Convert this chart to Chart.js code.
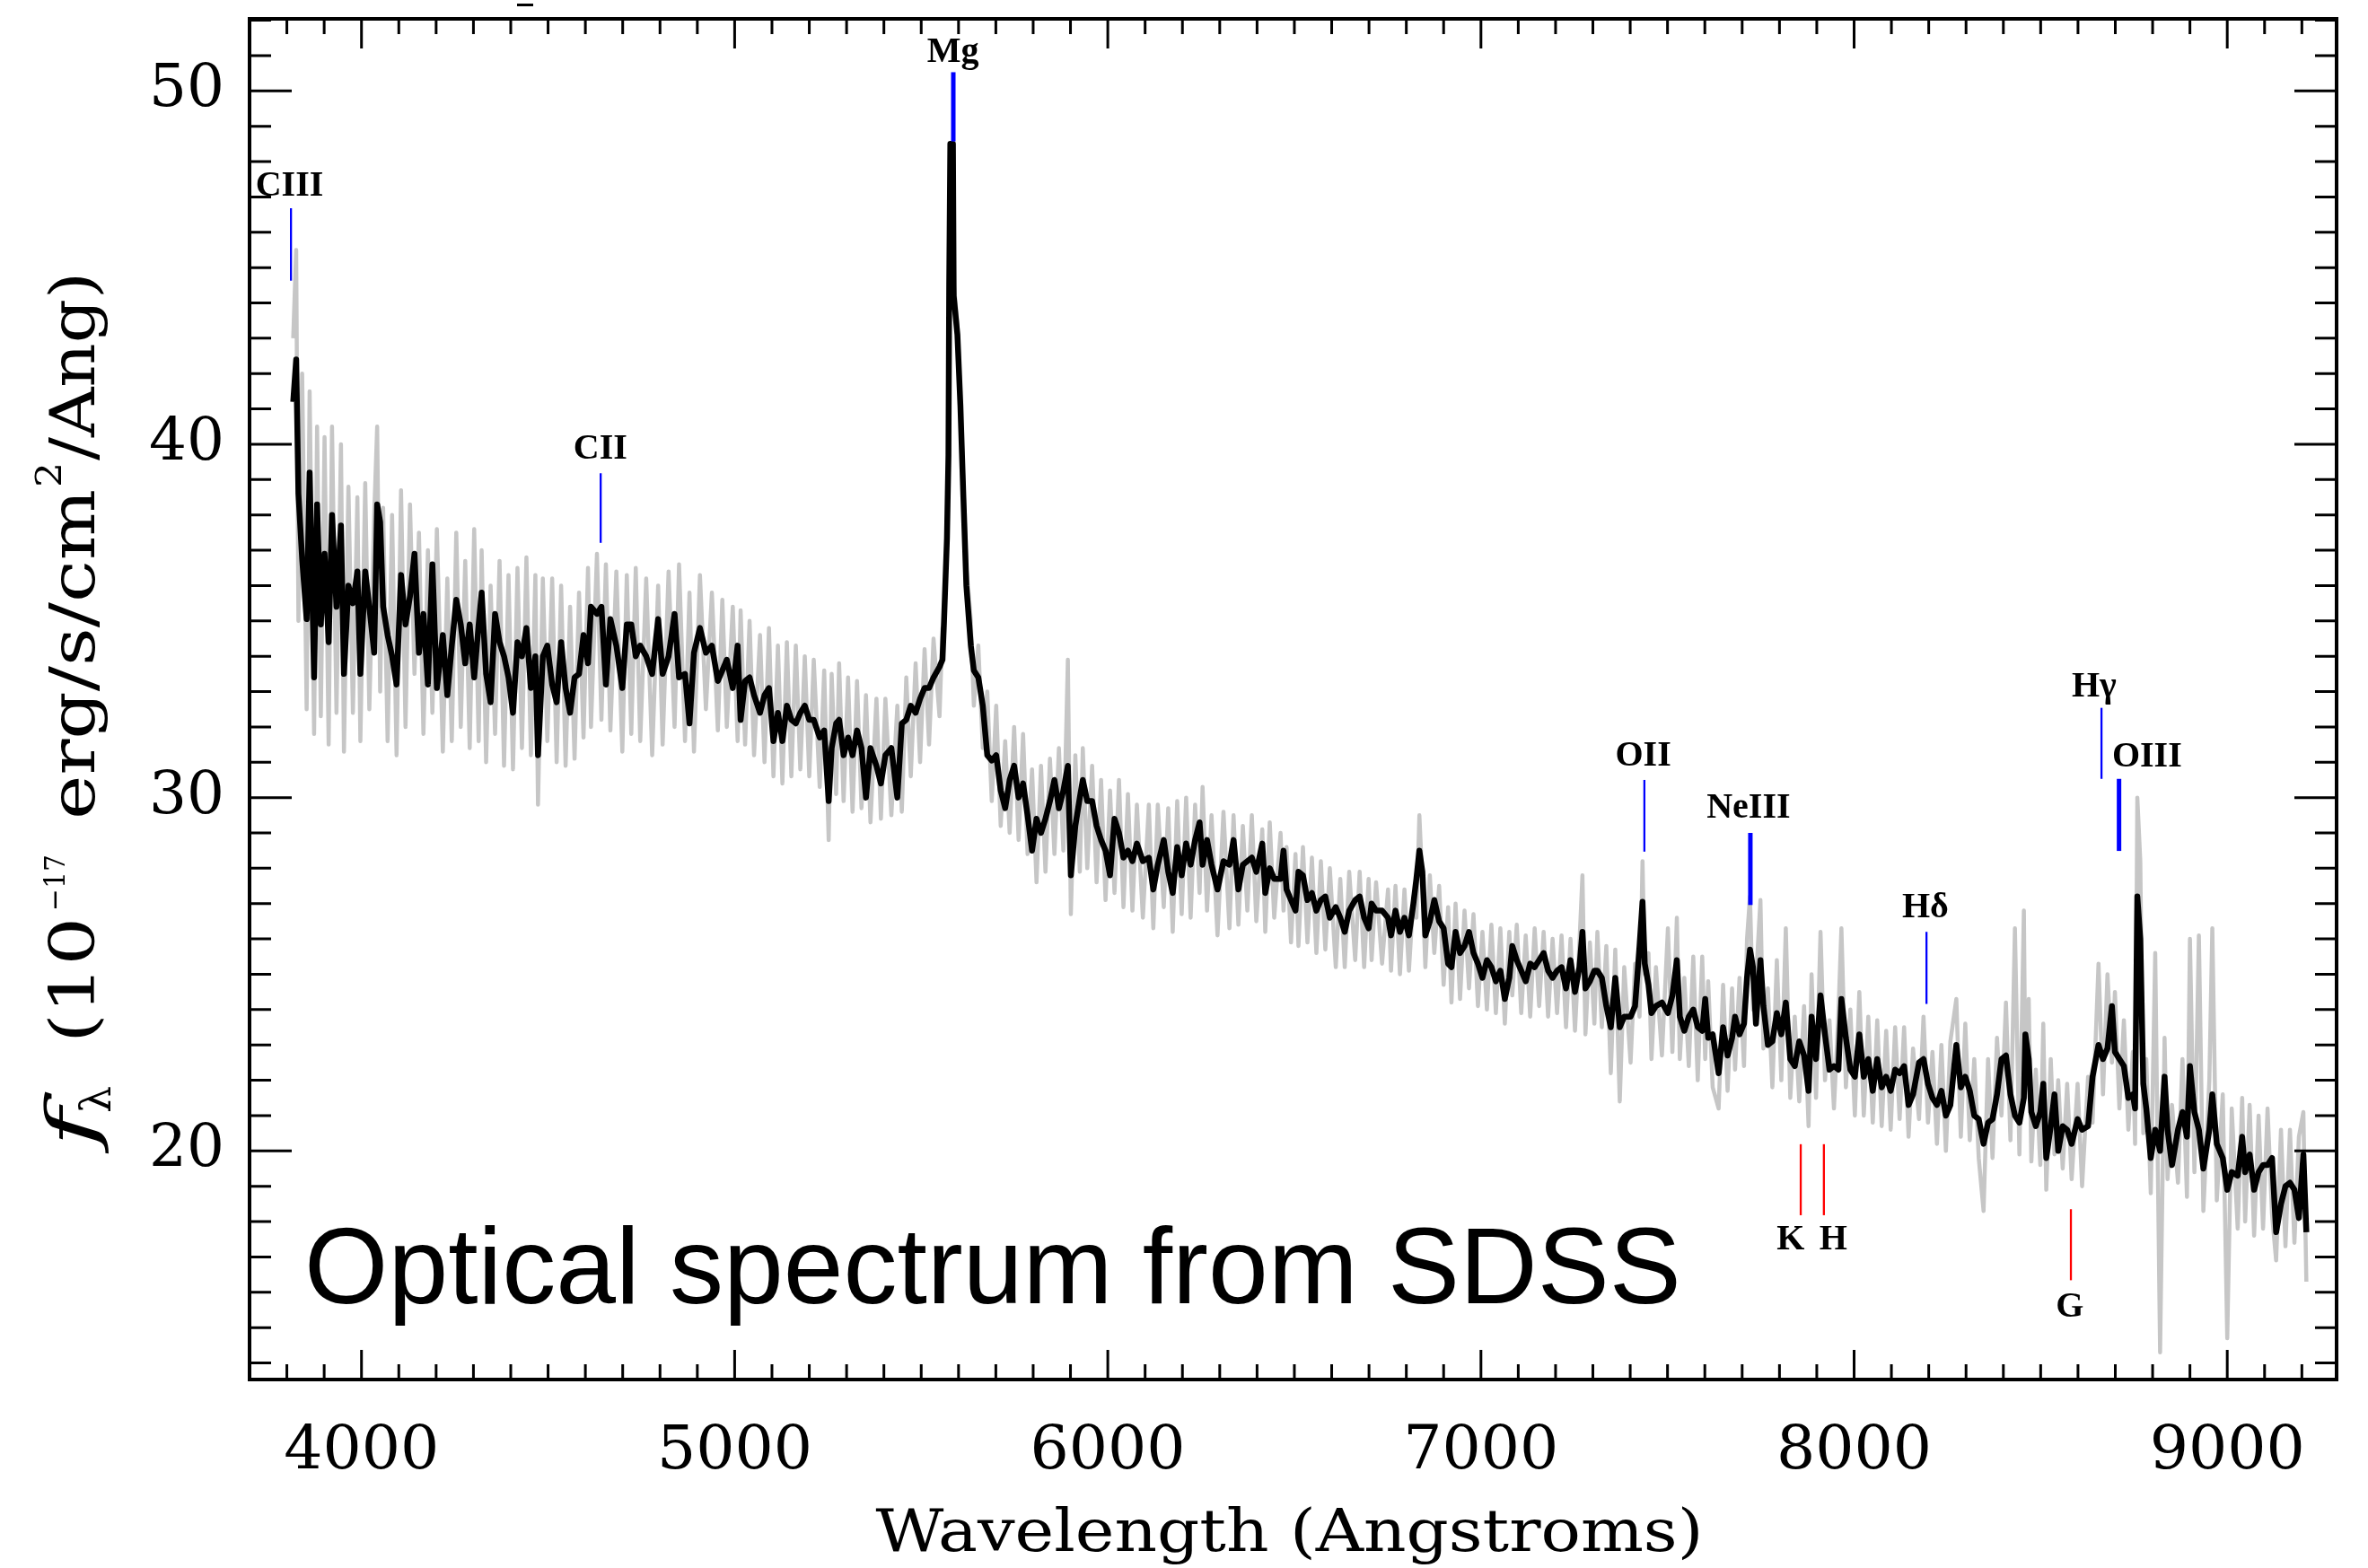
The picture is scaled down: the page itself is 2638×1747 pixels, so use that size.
<!DOCTYPE html>
<html><head><meta charset="utf-8">
<script src="https://cdn.jsdelivr.net/npm/chart.js@4.4.1/dist/chart.umd.min.js"></script>
<style>html,body{margin:0;padding:0;background:#fff;overflow:hidden}canvas{display:block}</style>
</head><body>
<canvas id="c" width="2638" height="1747"></canvas>
<script>
// ---------------- DATA ----------------
const wavelength = [
3817,3825,3831,3841,3853,3861,3873,3881,3891,3901,
3912,3921,3933,3945,3953,3965,3977,3989,3997,4010,
4021,4034,4042,4050,4058,4070,4082,4094,4106,4118,
4130,4142,4154,4166,4178,4190,4202,4218,4230,4242,
4254,4266,4278,4290,4302,4314,4322,4334,4346,4358,
4370,4382,4394,4406,4418,4430,4442,4454,4466,4473,
4486,4498,4511,4523,4535,4547,4559,4571,4583,4595,
4607,4615,4631,4643,4655,4667,4683,4699,4711,4723,
4735,4747,4763,4779,4795,4807,4823,4839,4851,4867,
4879,4891,4907,
4923,4939,4955,4967,4979,4995,5008,5016,5028,5040,
5052,5068,5080,5092,5104,5116,5128,5140,5152,5164,
5176,5188,5200,5212,5228,5240,5252,5260,5272,5280,
5292,5304,5316,5328,5340,5352,5364,5380,5392,5404,
5420,5436,5448,5460,5472,5485,5497,5509,5521,5533,
5549,5557,5561,5569,5573,5575,5578,5585,5587,5597,
5605,5613,5621,5633,5641,5653,5665,5677,5689,5701,
5713,5725,5737,5749,5761,5773,5785,5797,5809,5821,
5833,5845,5857,5869,5881,5893,5901,5913,5925,5933,
5945,5958,5970,5982,5994,6006,6018,6030,6042,6054,
6066,6078,6094,6110,
6122,6134,6150,6162,6174,6186,6198,6210,6222,6234,
6246,6254,6266,6278,6294,6310,6326,6337,6350,6362,
6374,6386,6398,6414,6422,6434,6446,6463,6471,6479,
6491,6503,6511,6523,6535,6547,6559,6571,6583,6595,
6611,6623,6635,6647,6663,6675,6687,6699,6707,6719,
6735,6751,6759,6771,6783,6795,6807,6819,6827,6835,
6843,6851,6863,6875,6888,6900,6912,6921,6932,6944,
6956,6968,6980,6992,7004,7016,7028,7040,7052,7064,
7076,7084,7096,7108,7120,7132,7144,7156,7168,7180,
7192,7204,7216,7228,7240,7252,7264,7272,7280,7292,
7304,
7312,7324,7336,7348,7360,7372,7384,7401,7413,7425,
7433,7439,7449,7457,7469,7485,7501,7513,7525,7533,
7545,7557,7569,7581,7593,7601,7609,7621,7637,7649,
7661,7673,7681,7693,7705,7713,7721,7729,7737,7749,
7757,7769,7781,7793,7805,7817,7829,7841,7853,7866,
7878,7886,7898,7910,7922,7934,7946,7958,7966,7978,
7990,8002,8014,8026,8038,8050,8062,8074,8086,8098,
8110,8122,8134,8146,8158,8174,8186,8198,8210,8222,
8234,8246,8258,8274,8286,8298,8310,8322,8334,8347,
8359,8371,8383,8395,8407,8419,8431,8443,8455,
8459,8468,8475,8487,8499,8507,8515,8527,8537,8547,
8559,8571,8583,8599,8611,8627,8639,8655,8667,8679,
8691,8699,8711,8723,8735,8747,8753,8759,8767,8775,
8783,8795,8807,8820,8832,8840,8852,8868,8880,8892,
8900,8912,8924,8936,8952,8960,8972,8988,9000,9012,
9028,9040,9048,9060,9072,9084,9096,9108,9120,9131,
9144,9156,9168,9180,9192,9204,9212
];

// smoothed flux (black curve)
const smoothFlux = [
41.2,42.4,38.6,36.75,35.05,39.2,33.4,38.3,34.9,36.9,
34.4,38.0,35.4,37.7,33.5,36.0,35.5,36.4,33.5,36.4,
35.4,34.1,38.3,37.8,35.4,34.6,34.0,33.2,36.3,34.9,
35.7,36.9,34.1,35.2,33.2,36.6,33.1,34.6,32.9,34.3,
35.6,34.9,33.8,34.9,33.4,34.9,35.8,33.5,32.7,35.2,
34.4,34.0,33.4,32.4,34.4,34.0,34.8,33.1,34.0,31.2,
34.0,34.3,33.2,32.7,34.4,33.1,32.4,33.4,33.5,34.6,
33.8,35.4,35.2,35.4,33.2,35.05,34.3,33.1,34.9,34.9,
34.0,34.3,34.0,33.5,35.05,33.5,34.0,35.2,33.4,33.5,
32.1,34.1,34.8,
34.1,34.3,33.3,33.6,33.9,33.1,34.3,32.2,33.3,33.4,
32.9,32.4,32.9,33.1,31.6,32.4,31.6,32.6,32.2,32.1,
32.4,32.6,32.2,32.2,31.7,31.9,29.9,31.4,32.1,32.2,
31.2,31.7,31.2,31.9,31.4,30.0,31.4,30.9,30.4,31.2,
31.4,30.0,32.1,32.2,32.6,32.4,32.8,33.1,33.1,33.4,
33.7,33.9,34.96,37.35,39.7,44.5,48.5,48.5,44.2,43.1,
41.1,38.5,36.0,34.3,33.6,33.4,32.6,31.2,31.05,31.2,
30.2,29.7,30.5,30.9,30.0,30.4,29.5,28.5,29.4,29.0,
29.4,29.9,30.5,29.7,30.2,30.9,27.8,29.2,30.0,30.5,
29.9,29.9,29.2,28.8,28.5,27.8,29.4,29.0,28.3,28.5,
28.2,28.7,28.2,28.3,
27.4,28.1,28.8,27.9,27.3,28.6,27.8,28.7,28.1,28.8,
29.3,28.1,28.8,28.1,27.4,28.2,28.1,28.8,27.4,28.1,
28.2,28.3,27.9,28.7,27.3,28.0,27.7,27.7,28.5,27.4,
27.1,26.8,27.9,27.8,27.1,27.3,26.8,27.1,27.2,26.6,
26.9,26.6,26.2,26.8,27.1,27.2,26.6,26.3,27.0,26.8,
26.8,26.6,26.1,26.8,26.2,26.6,26.1,27.0,27.7,28.5,
27.9,26.1,26.5,27.1,26.5,26.3,25.3,25.2,26.2,25.6,
25.8,26.2,25.6,25.3,24.9,25.4,25.2,24.8,25.1,24.3,
24.9,25.8,25.4,25.1,24.8,25.3,25.2,25.4,25.6,25.1,
24.9,25.1,25.2,24.6,25.4,24.5,25.2,26.2,24.6,24.8,
25.1,
25.1,24.9,24.1,23.5,24.9,23.5,23.8,23.8,24.1,25.8,
27.05,25.3,24.7,23.9,24.1,24.2,23.9,24.4,25.4,23.8,
23.4,23.8,24.0,23.5,23.4,24.3,23.2,23.3,22.2,23.5,
22.7,23.2,23.8,23.3,23.6,24.9,25.7,25.2,23.6,25.4,
24.1,23.0,23.1,23.9,23.3,24.2,22.6,22.4,23.1,22.7,
21.7,23.8,22.6,24.4,23.3,22.3,22.4,22.3,24.3,23.2,
22.3,22.1,23.3,22.1,22.6,21.7,22.6,21.8,22.1,21.7,
22.3,22.2,22.4,21.3,21.6,22.5,22.6,21.9,21.5,21.3,
21.7,21.0,21.3,23.0,21.8,22.1,21.7,21.0,20.9,20.2,
20.8,20.9,21.6,22.6,22.7,21.6,21.0,20.8,21.5,
23.3,22.6,21.1,20.7,21.1,21.9,19.8,20.7,21.6,20.0,
20.7,20.6,20.2,20.9,20.6,20.7,22.1,23.0,22.6,22.9,
24.1,22.8,22.6,22.4,21.5,21.6,21.2,27.2,26.0,21.9,
21.2,19.8,20.6,20.0,22.1,20.6,19.6,20.6,21.1,20.4,
22.4,21.1,20.6,19.5,20.6,21.6,20.2,19.8,18.9,19.4,
19.3,20.4,19.4,19.9,18.9,19.4,19.6,19.6,19.8,17.7,
18.5,19.0,19.1,18.9,18.1,19.9,17.7
];

// raw (unsmoothed) flux, grey noisy curve
const rawFlux = [
43.0,45.5,35.0,42.0,32.5,41.5,31.8,40.5,32.3,40.2,
31.5,40.5,32.4,40.0,31.3,38.8,32.4,38.5,31.6,38.9,
32.5,38.0,40.5,33.0,38.2,31.6,38.0,31.2,38.7,32.0,
38.3,33.5,37.5,31.8,37.0,32.4,37.6,31.3,36.2,31.6,
37.5,32.0,36.7,31.4,37.6,31.6,37.0,31.0,36.0,31.8,
36.7,30.9,36.3,30.8,36.5,31.4,36.8,31.2,36.3,29.8,
36.2,31.6,36.2,31.0,36.0,30.9,35.4,31.1,35.8,31.7,
36.5,32.0,36.9,32.2,36.6,31.9,36.4,31.3,36.3,31.8,
36.5,31.6,36.2,31.2,36.0,31.5,36.4,32.0,36.6,31.6,
35.8,31.3,36.3,
32.5,35.8,31.9,35.6,32.0,35.4,31.6,35.3,31.5,35.0,
31.2,34.6,31.0,34.8,30.6,34.3,30.4,34.4,30.6,34.3,
30.8,34.0,30.6,33.9,30.3,33.6,28.8,33.5,30.1,33.8,
29.9,33.4,29.6,33.3,29.7,32.9,29.3,32.8,29.4,32.8,
29.5,32.6,29.6,33.4,30.6,33.8,31.0,34.2,31.5,34.5,
32.3,34.8,34.5,37.6,39.8,44.5,48.5,48.4,44.6,43.4,
41.3,38.9,36.5,35.0,32.6,34.3,31.4,33.0,29.9,32.6,
29.2,31.6,29.0,32.0,28.8,31.8,28.4,30.8,27.6,30.9,
27.9,31.1,28.4,31.4,28.5,33.9,26.7,31.2,27.9,31.4,
28.0,30.9,27.6,30.5,27.1,30.2,27.3,30.5,26.9,30.1,
26.8,29.8,26.6,29.8,
26.3,29.8,26.9,29.7,26.2,29.9,26.7,30.0,26.6,29.8,
27.3,30.3,26.8,29.5,26.1,29.6,26.3,29.5,26.4,29.2,
26.8,29.5,26.5,29.1,26.2,29.3,26.6,29.0,26.8,28.6,
25.9,28.4,25.8,28.6,25.9,28.3,25.6,28.2,25.7,28.0,
25.2,27.7,25.2,27.9,25.4,27.9,25.2,27.7,25.4,27.6,
25.3,27.4,25.1,27.5,25.0,27.4,25.1,27.2,26.6,29.5,
27.6,25.2,27.8,25.6,27.5,24.7,26.9,24.2,27.0,24.3,
26.8,24.6,26.7,24.1,26.2,24.0,26.4,23.9,26.3,23.6,
26.2,24.4,26.4,23.9,26.1,23.8,26.3,24.1,26.2,23.8,
26.0,23.9,26.1,23.5,26.0,23.4,25.9,27.8,23.3,25.9,
23.6,
26.2,23.5,25.8,22.2,25.7,21.4,25.2,22.5,25.3,23.8,
28.2,25.0,25.6,22.6,25.2,22.7,26.3,22.8,26.6,22.6,
24.9,22.4,25.5,22.0,25.5,22.6,24.8,21.8,21.2,24.7,
21.7,24.6,22.3,24.9,22.4,26.0,27.2,24.0,24.8,27.1,
22.9,24.6,21.8,25.4,22.0,26.3,21.5,23.8,21.4,24.1,
20.7,25.0,21.5,26.2,22.0,23.7,21.2,23.9,26.3,21.8,
24.0,21.0,24.5,21.0,23.8,20.8,23.7,20.7,23.4,20.6,
23.5,20.9,23.5,20.4,22.9,20.9,23.8,20.8,22.8,20.2,
23.0,20.0,23.1,24.3,20.4,23.6,20.3,22.6,19.8,18.3,
22.6,19.8,23.2,21.0,24.2,20.3,26.3,19.9,26.8,
22.0,24.3,19.7,22.3,19.6,23.6,18.9,22.6,19.9,22.0,
19.5,21.9,19.2,21.9,19.0,22.1,20.8,25.3,21.6,25.0,
22.5,24.5,21.2,23.7,20.6,22.8,20.2,30.0,28.2,20.5,
22.6,18.8,25.6,14.3,23.2,19.2,21.3,19.1,22.6,18.7,
26.0,19.4,26.1,18.3,22.0,26.3,18.6,21.6,14.7,21.2,
17.8,21.5,18.0,21.3,17.6,21.0,17.8,21.2,18.2,16.9,
20.6,17.3,20.6,17.4,20.4,21.1,16.3
];

// axes
const xRange = [3700, 9293];
const yRange = [13.53, 52.04];
const xTickValues = [4000, 5000, 6000, 7000, 8000, 9000];
const yTickValues = [20, 30, 40, 50];
const xMinorStep = 100;
const yMinorStep = 1;
const xTitle = 'Wavelength (Angstroms)';

// spectral line identifications
const lineNames = ['CIII', 'CII', 'Mg', 'OII', 'NeIII', 'Hδ', 'Hγ', 'OIII', 'K', 'H', 'G'];
const lineWave  = [3811, 4641, 5586, 7438, 7722, 8194, 8663, 8710, 7857, 7919, 8581];
const lineLow   = [44.63, 37.21, 48.57, 28.47, 26.96, 24.16, 30.53, 28.49, 18.18, 18.18, 16.34];
const lineHigh  = [46.68, 39.18, 50.53, 30.50, 29.00, 26.20, 32.54, 30.53, 20.19, 20.19, 18.35];
const lineKind  = ['em', 'em', 'em', 'em', 'em', 'em', 'em', 'em', 'abs', 'abs', 'abs'];

// label anchors (data coordinates, centre of capitals)
const labelWave = [3807, 4640, 5585, 7435, 7717, 8191, 8643, 8785, 7830, 7944, 8578];
const labelFlux = [47.37, 39.92, 51.14, 31.23, 29.75, 26.94, 33.2, 31.21, 17.54, 17.54, 15.63];

const annotationText = 'Optical spectrum from SDSS';
const annotationAt = {x: 3847, y: 15.68};

// ---------------- STYLE ----------------
const STYLE = {
  rawColor: '#c6c6c6', rawWidth: 4.5,
  smoothColor: '#000000', smoothWidth: 6.5,
  emColor: '#0000ff', absColor: '#ff0000',
  thickLines: ['Mg', 'NeIII', 'OIII'], thickWidth: 5, thinWidth: 2.3,
  serif: '"DejaVu Serif"',
  labelFont: 'bold 40px "Liberation Serif"',
  annotationFont: '120px "Liberation Sans"'
};

const common = {showLine: true, pointRadius: 0, pointHoverRadius: 0, borderJoinStyle: 'round', tension: 0, fill: false};

const datasets = [
  Object.assign({label: 'raw', order: 3, borderColor: STYLE.rawColor, borderWidth: STYLE.rawWidth,
    data: wavelength.map((w, i) => ({x: w, y: rawFlux[i]}))}, common),
  Object.assign({label: 'smoothed', order: 2, borderColor: STYLE.smoothColor, borderWidth: STYLE.smoothWidth,
    data: wavelength.map((w, i) => ({x: w, y: smoothFlux[i]}))}, common)
].concat(lineNames.map((n, i) => Object.assign({
  label: n, order: 1,
  borderColor: lineKind[i] === 'em' ? STYLE.emColor : STYLE.absColor,
  borderWidth: STYLE.thickLines.includes(n) ? STYLE.thickWidth : STYLE.thinWidth,
  borderCapStyle: 'butt',
  data: [{x: lineWave[i], y: lineLow[i]}, {x: lineWave[i], y: lineHigh[i]}]
}, common, {borderJoinStyle: 'miter'})));

// ---------------- PLUGINS ----------------
const bgPlugin = {
  id: 'bg',
  beforeDraw(chart) {
    const c = chart.ctx; c.save(); c.fillStyle = '#fff'; c.fillRect(0, 0, chart.width, chart.height); c.restore();
  }
};

const framePlugin = {
  id: 'frame',
  afterDatasetsDraw(chart) {
    const {ctx, chartArea: a, scales: {x, y}} = chart;
    ctx.save();
    ctx.strokeStyle = '#000';
    ctx.lineWidth = 3;
    ctx.beginPath();
    for (let v = Math.ceil(xRange[0] / xMinorStep) * xMinorStep; v <= xRange[1]; v += xMinorStep) {
      const len = xTickValues.includes(v) ? 33 : 17;
      const px = x.getPixelForValue(v);
      ctx.moveTo(px, a.bottom); ctx.lineTo(px, a.bottom - len);
      ctx.moveTo(px, a.top); ctx.lineTo(px, a.top + len);
    }
    for (let v = Math.ceil(yRange[0]); v <= yRange[1]; v += yMinorStep) {
      const len = yTickValues.includes(v) ? 47 : 24;
      const py = y.getPixelForValue(v);
      ctx.moveTo(a.left, py); ctx.lineTo(a.left + len, py);
      ctx.moveTo(a.right, py); ctx.lineTo(a.right - len, py);
    }
    ctx.stroke();
    ctx.lineWidth = 4;
    ctx.strokeRect(a.left, a.top, a.right - a.left, a.bottom - a.top);

    // line labels
    ctx.fillStyle = '#000';
    ctx.font = STYLE.labelFont;
    ctx.textAlign = 'center';
    ctx.textBaseline = 'alphabetic';
    lineNames.forEach((n, i) => {
      ctx.fillText(n, x.getPixelForValue(labelWave[i]), y.getPixelForValue(labelFlux[i]) + 13);
    });

    // annotation
    ctx.font = STYLE.annotationFont;
    ctx.textAlign = 'left';
    ctx.fillText(annotationText, x.getPixelForValue(annotationAt.x), y.getPixelForValue(annotationAt.y));
    ctx.restore();
  }
};

function fitText(ctx, text, font, x0, span, dy) {
  ctx.font = font;
  const w = ctx.measureText(text).width;
  ctx.save();
  ctx.translate(x0, dy);
  ctx.scale(span / w, 1);
  ctx.fillText(text, 0, 0);
  ctx.restore();
}

const titlePlugin = {
  id: 'titles',
  afterDraw(chart) {
    const ctx = chart.ctx;
    const a = chart.chartArea;
    ctx.save();
    ctx.fillStyle = '#000';
    ctx.textBaseline = 'alphabetic';
    ctx.textAlign = 'left';
    // x title: centred under the plot
    const xc = (a.left + a.right) / 2 - 4;
    fitText(ctx, xTitle, '66px ' + STYLE.serif, xc - 461, 922, 1728);

    // y title (rotated), rich text
    ctx.save();
    ctx.translate(105, 1278);
    ctx.rotate(-Math.PI / 2);
    const F = STYLE.serif;
    fitText(ctx, 'f', 'italic 74px ' + F, 0, 44, 0);
    fitText(ctx, 'λ', '46px ' + F, 38, 30, 18);
    fitText(ctx, '(10', '70px ' + F, 116, 140, 0);
    fitText(ctx, '−17', '32px ' + F, 263, 63, -33);
    fitText(ctx, 'erg/s/cm', '70px ' + F, 365, 368, 0);
    fitText(ctx, '2', '40px ' + F, 735, 28, -37);
    fitText(ctx, '/Ang)', '70px ' + F, 765, 210, 0);
    ctx.restore();

    // small mark above the frame
    ctx.fillRect(576, 4, 18, 3);
    ctx.restore();
  }
};

const zeroPad = s => { s.paddingLeft = 0; s.paddingRight = 0; s.paddingTop = 0; s.paddingBottom = 0; };

new Chart(document.getElementById('c'), {
  type: 'scatter',
  data: {datasets},
  options: {
    responsive: false,
    animation: false,
    devicePixelRatio: 1,
    events: [],
    layout: {padding: {left: 0, right: 35, top: 21, bottom: 0}},
    plugins: {legend: {display: false}, tooltip: {enabled: false}, title: {display: false}},
    scales: {
      x: {
        type: 'linear', position: 'bottom', min: xRange[0], max: xRange[1],
        afterBuildTicks: s => { s.ticks = xTickValues.map(v => ({value: v})); },
        ticks: {font: {family: STYLE.serif, size: 68}, color: '#000', padding: 41, maxRotation: 0, autoSkip: false,
                callback: v => String(v)},
        grid: {display: false, drawTicks: false}, border: {display: false},
        afterFit: s => { s.height = 210; zeroPad(s); }
      },
      y: {
        type: 'linear', position: 'left', min: yRange[0], max: yRange[1],
        afterBuildTicks: s => { s.ticks = yTickValues.map(v => ({value: v})); },
        ticks: {font: {family: STYLE.serif, size: 66}, color: '#000', padding: 28, autoSkip: false,
                callback: v => String(v)},
        grid: {display: false, drawTicks: false}, border: {display: false},
        afterFit: s => { s.width = 278; zeroPad(s); }
      }
    }
  },
  plugins: [bgPlugin, framePlugin, titlePlugin]
});
</script>
</body></html>
